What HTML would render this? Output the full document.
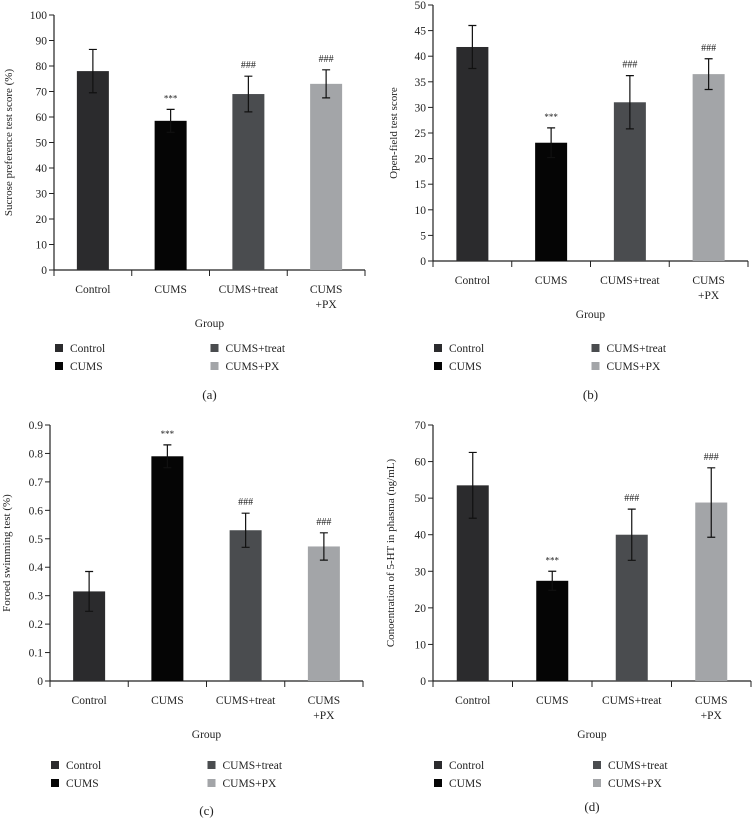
<!DOCTYPE html>
<html><head><meta charset="utf-8">
<style>
body{margin:0;background:#fff;}
svg{display:block;font-family:"Liberation Serif",serif;}
</style></head>
<body>
<svg id="fig" width="752" height="821" viewBox="0 0 752 821"></svg>
<script>
const categories = ["Control","CUMS","CUMS+treat","CUMS+PX"];
const colors = ["#2b2b2d","#050505","#4a4c4f","#a3a5a8"];
const valuesA = [78, 58.5, 69, 73];
const errorsA = [8.5, 4.5, 7, 5.5];
const valuesB = [41.8, 23.1, 31, 36.5];
const errorsB = [4.2, 2.9, 5.2, 3];
const valuesC = [0.315, 0.79, 0.53, 0.473];
const errorsC = [0.07, 0.04, 0.06, 0.048];
const valuesD = [53.5, 27.4, 40, 48.8];
const errorsD = [9, 2.6, 7, 9.5];
const marksA = ["","***","###","###"];
const marksB = ["","***","###","###"];
const marksC = ["","***","###","###"];
const marksD = ["","***","###","###"];
const ticksA = [0,10,20,30,40,50,60,70,80,90,100];
const ticksB = [0,5,10,15,20,25,30,35,40,45,50];
const ticksC = [0,0.1,0.2,0.3,0.4,0.5,0.6,0.7,0.8,0.9];
const ticksD = [0,10,20,30,40,50,60,70];

const NS="http://www.w3.org/2000/svg";
const svg=document.getElementById('fig');
function mk(tag,attrs,parent){const e=document.createElementNS(NS,tag);for(const k in attrs)e.setAttribute(k,attrs[k]);(parent||svg).appendChild(e);return e;}
function txt(s,x,y,anchor,size,parent){const t=mk('text',{x:x,y:y,'text-anchor':anchor,'font-size':size,fill:'#222'},parent);t.textContent=s;return t;}

function panel(p){
  const g=mk('g',{});
  
  
  const max=p.ticks[p.ticks.length-1];
  const yS=v=>p.bottom-(v/max)*(p.bottom-p.top);
  const step=(p.right-p.left)/categories.length;
  const xC=i=>p.left+step*(i+0.5);
  // axes
  const ax=mk('line',{x1:p.left,y1:p.top,x2:p.left,y2:p.bottom,stroke:'#222','stroke-width':1.2},g);
  
  
  const bx=mk('line',{x1:p.left,y1:p.bottom,x2:p.right,y2:p.bottom,stroke:'#222','stroke-width':1.2},g);
  
  
  p.ticks.forEach(t=>{
    const y=yS(t);
    mk('line',{x1:p.left-5,y1:y,x2:p.left,y2:y,stroke:'#222','stroke-width':1},g);
    const l=txt(String(t),p.left-7,y+4,'end',11.5,g);
    
    
  });
  for(let i=0;i<=categories.length;i++){
    const x=p.left+step*i;
    mk('line',{x1:x,y1:p.bottom,x2:x,y2:p.bottom+6,stroke:'#222','stroke-width':1},g);
  }
  p.values.forEach((v,i)=>{
    const bw=32, x=xC(i);
    const r=mk('rect',{x:x-bw/2,y:yS(v),width:bw,height:p.bottom-yS(v),fill:colors[i]},g);
    
    
    const hi=yS(v+p.errors[i]), lo=yS(v-p.errors[i]);
    const eb=mk('path',{d:`M${x},${hi}V${lo}M${x-4},${hi}H${x+4}M${x-4},${lo}H${x+4}`,stroke:'#111','stroke-width':1.2,fill:'none'},g);
    
    
    if(p.marks[i]){
      const m=txt(p.marks[i],x,hi-8,'middle',p.marks[i]=='***'?9:10,g);
      
      
    }
    const parts=categories[i]=='CUMS+PX'?['CUMS','+PX']:[categories[i]];
    parts.forEach((s,k)=>{
      const c=txt(s,x,p.bottom+23+k*15,'middle',11.5,g);
      
      
    });
  });
  const gt=txt('Group',(p.left+p.right)/2,p.bottom+57,'middle',11.5,g);
  
  
  const yc=(p.top+p.bottom)/2;
  const yt=txt(p.ytitle,p.ytx,yc,'middle',11,g);
  yt.setAttribute('transform',`rotate(-90 ${p.ytx} ${yc})`);
  
  
  // legend
  categories.forEach((c,i)=>{
    const col=i<2?0:1,row=i%2;
    const lx=p.left+col*(step*2)+1, ly=p.legY+row*18;
    const s=mk('rect',{x:lx,y:ly-4,width:8,height:8,fill:colors[i]},g);
    
    
    const t=txt(c,lx+15,ly+4,'start',11.5,g);
    
    
  });
  const pl=txt('('+p.id+')',(p.left+p.right)/2,p.labY,'middle',13,g);
  
  
}
panel({id:'a',left:54,right:365,top:15,bottom:270,ticks:ticksA,values:valuesA,errors:errorsA,marks:marksA,ytitle:'Sucrose preference test score (%)',ytx:12,legY:348,labY:399});
panel({id:'b',left:433,right:748,top:5,bottom:261,ticks:ticksB,values:valuesB,errors:errorsB,marks:marksB,ytitle:'Open-field test score',ytx:397,legY:348,labY:399});
panel({id:'c',left:50,right:363,top:425,bottom:681,ticks:ticksC,values:valuesC,errors:errorsC,marks:marksC,ytitle:'Foroed swimming test (%)',ytx:10,legY:765,labY:815});
panel({id:'d',left:433,right:751,top:425,bottom:681,ticks:ticksD,values:valuesD,errors:errorsD,marks:marksD,ytitle:'Conoentration of 5-HT in phasma (ng/mL)',ytx:394,legY:765,labY:811});
</script>
</body></html>
